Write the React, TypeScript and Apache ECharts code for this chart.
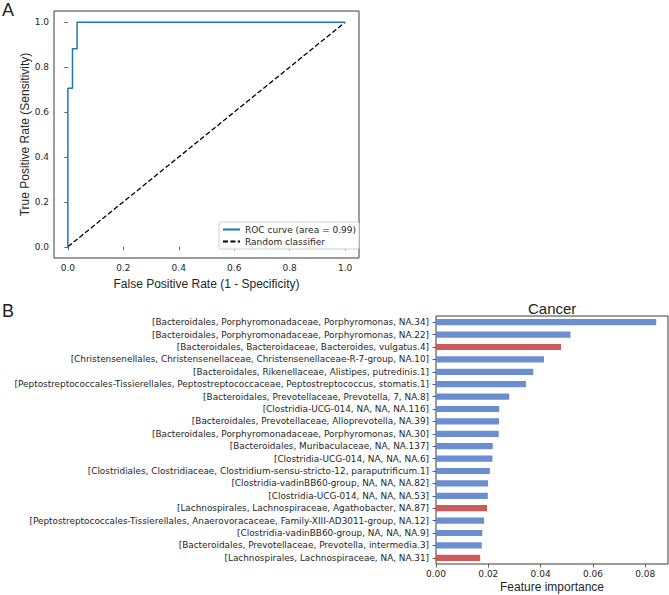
import React, { useEffect, useRef } from "react";
import * as echarts from "echarts";

const rocFpr = [0, 0, 0.0167, 0.0167, 0.0333, 0.0333, 1];
const rocTpr = [0, 0.706, 0.706, 0.882, 0.882, 1, 1];
const randFpr = [0, 1];
const randTpr = [0, 1];
const rocTicks = [0, 0.2, 0.4, 0.6, 0.8, 1.0];

const features = [
  "[Bacteroidales, Porphyromonadaceae, Porphyromonas, NA.34]",
  "[Bacteroidales, Porphyromonadaceae, Porphyromonas, NA.22]",
  "[Bacteroidales, Bacteroidaceae, Bacteroides, vulgatus.4]",
  "[Christensenellales, Christensenellaceae, Christensenellaceae-R-7-group, NA.10]",
  "[Bacteroidales, Rikenellaceae, Alistipes, putredinis.1]",
  "[Peptostreptococcales-Tissierellales, Peptostreptococcaceae, Peptostreptococcus, stomatis.1]",
  "[Bacteroidales, Prevotellaceae, Prevotella, 7, NA.8]",
  "[Clostridia-UCG-014, NA, NA, NA.116]",
  "[Bacteroidales, Prevotellaceae, Alloprevotella, NA.39]",
  "[Bacteroidales, Porphyromonadaceae, Porphyromonas, NA.30]",
  "[Bacteroidales, Muribaculaceae, NA, NA.137]",
  "[Clostridia-UCG-014, NA, NA, NA.6]",
  "[Clostridiales, Clostridiaceae, Clostridium-sensu-stricto-12, paraputrificum.1]",
  "[Clostridia-vadinBB60-group, NA, NA, NA.82]",
  "[Clostridia-UCG-014, NA, NA, NA.53]",
  "[Lachnospirales, Lachnospiraceae, Agathobacter, NA.87]",
  "[Peptostreptococcales-Tissierellales, Anaerovoracaceae, Family-XIII-AD3011-group, NA.12]",
  "[Clostridia-vadinBB60-group, NA, NA, NA.9]",
  "[Bacteroidales, Prevotellaceae, Prevotella, intermedia.3]",
  "[Lachnospirales, Lachnospiraceae, NA, NA.31]",
];
const importance = [
  0.0842, 0.0514, 0.0478, 0.0413, 0.0372, 0.0344, 0.028, 0.0242, 0.0241, 0.024,
  0.0217, 0.0216, 0.0206, 0.0199, 0.0198, 0.0195, 0.0184, 0.0177, 0.0175, 0.0169,
];
const highlighted = [
  false, false, true, false, false, false, false, false, false, false,
  false, false, false, false, false, true, false, false, false, true,
];
const barTicks = [0, 0.02, 0.04, 0.06, 0.08];

const BLUE = "#6a8ecf";
const RED = "#cc5a5a";
const FRAME = "#3a3a3a";
const TICKFONT = "DejaVu Sans";
const LABELFONT = "Liberation Sans";

export default function App() {
  const ref = useRef<HTMLDivElement>(null);
  useEffect(() => {
    if (!ref.current) return;
    const chart = echarts.init(ref.current, null, { renderer: "svg" });
    const tickStyle = { show: true, length: 3.5, inside: false, lineStyle: { color: FRAME, width: 0.8 } };
    const hidden = { color: "transparent", borderColor: "transparent", borderWidth: 0 };
    chart.setOption({
      animation: false,
      backgroundColor: "#ffffff",
      title: [
        { text: "A", left: 2, top: 1, padding: 0, textStyle: { fontFamily: LABELFONT, fontWeight: "normal", fontSize: 18, color: "#222" } },
        { text: "B", left: 2, top: 302, padding: 0, textStyle: { fontFamily: LABELFONT, fontWeight: "normal", fontSize: 18, color: "#222" } },
        { text: "Cancer", left: 528, top: 301, padding: 0, textStyle: { fontFamily: LABELFONT, fontWeight: "normal", fontSize: 15, color: "#222" } },
      ],
      grid: [
        { left: 54, top: 11, width: 305, height: 247, show: true, borderColor: FRAME, borderWidth: 1, backgroundColor: "transparent" },
        { left: 436, top: 316, width: 232, height: 248, show: true, borderColor: FRAME, borderWidth: 1, backgroundColor: "transparent" },
      ],
      legend: {
        left: 219,
        top: 222,
        orient: "vertical",
        itemWidth: 17,
        itemHeight: 10,
        itemGap: 3,
        padding: [3, 3, 3, 3],
        borderColor: "#d0d0d0",
        borderWidth: 1,
        borderRadius: 2,
        backgroundColor: "#ffffff",
        itemStyle: hidden,
        textStyle: { fontFamily: TICKFONT, fontSize: 9, color: "#262626", padding: [0, 0, 0, 0] },
        data: ["ROC curve (area = 0.99)", "Random classifier"],
      },
      xAxis: [
        {
          type: "value",
          gridIndex: 0,
          min: -0.05,
          max: 1.05,
          axisLine: { show: false },
          splitLine: { show: false },
          axisTick: { ...tickStyle, customValues: rocTicks },
          axisLabel: { customValues: rocTicks, formatter: (v: number) => v.toFixed(1), fontFamily: TICKFONT, fontSize: 9, color: "#262626", margin: 5 },
          name: "False Positive Rate (1 - Specificity)",
          nameLocation: "middle",
          nameGap: 20,
          nameTextStyle: { fontFamily: LABELFONT, fontSize: 12, color: "#262626" },
        },
        {
          type: "value",
          gridIndex: 1,
          min: 0,
          max: 0.0887,
          axisLine: { show: false },
          splitLine: { show: false },
          axisTick: { ...tickStyle, customValues: barTicks },
          axisLabel: { customValues: barTicks, formatter: (v: number) => v.toFixed(2), fontFamily: TICKFONT, fontSize: 9, color: "#262626", margin: 5 },
          name: "Feature importance",
          nameLocation: "middle",
          nameGap: 17,
          nameTextStyle: { fontFamily: LABELFONT, fontSize: 12, color: "#262626" },
        },
      ],
      yAxis: [
        {
          type: "value",
          gridIndex: 0,
          min: -0.05,
          max: 1.05,
          axisLine: { show: false },
          splitLine: { show: false },
          axisTick: { ...tickStyle, customValues: rocTicks },
          axisLabel: { customValues: rocTicks, formatter: (v: number) => v.toFixed(1), fontFamily: TICKFONT, fontSize: 9, color: "#262626", margin: 5 },
          name: "True Positive Rate (Sensitivity)",
          nameLocation: "middle",
          nameRotate: 90,
          nameGap: 18,
          nameTextStyle: { fontFamily: LABELFONT, fontSize: 12, color: "#262626" },
        },
        {
          type: "category",
          gridIndex: 1,
          inverse: true,
          data: features,
          axisLine: { show: false },
          splitLine: { show: false },
          axisTick: { ...tickStyle, alignWithLabel: true },
          axisLabel: { fontFamily: TICKFONT, fontSize: 8.9, color: "#262626", margin: 7, interval: 0 },
        },
      ],
      series: [
        {
          name: "ROC curve (area = 0.99)",
          type: "line",
          xAxisIndex: 0,
          yAxisIndex: 0,
          showSymbol: false,
          symbol: "none",
          lineStyle: { color: "#1f77b4", width: 1.5 },
          itemStyle: hidden,
          data: rocFpr.map((x, i) => [x, rocTpr[i]]),
          z: 3,
        },
        {
          name: "Random classifier",
          type: "line",
          xAxisIndex: 0,
          yAxisIndex: 0,
          showSymbol: false,
          symbol: "none",
          lineStyle: { color: "#000000", width: 1.3, type: [5, 2.4] },
          itemStyle: hidden,
          data: randFpr.map((x, i) => [x, randTpr[i]]),
          z: 2,
        },
        {
          type: "bar",
          xAxisIndex: 1,
          yAxisIndex: 1,
          barWidth: "50%",
          data: importance.map((v, i) => ({ value: v, itemStyle: { color: highlighted[i] ? RED : BLUE } })),
        },
      ],
    });
    return () => chart.dispose();
  }, []);
  return (
    <div
      ref={ref}
      style={{ position: "fixed", left: 0, top: 0, width: 669, height: 595 }}
    />
  );
}
